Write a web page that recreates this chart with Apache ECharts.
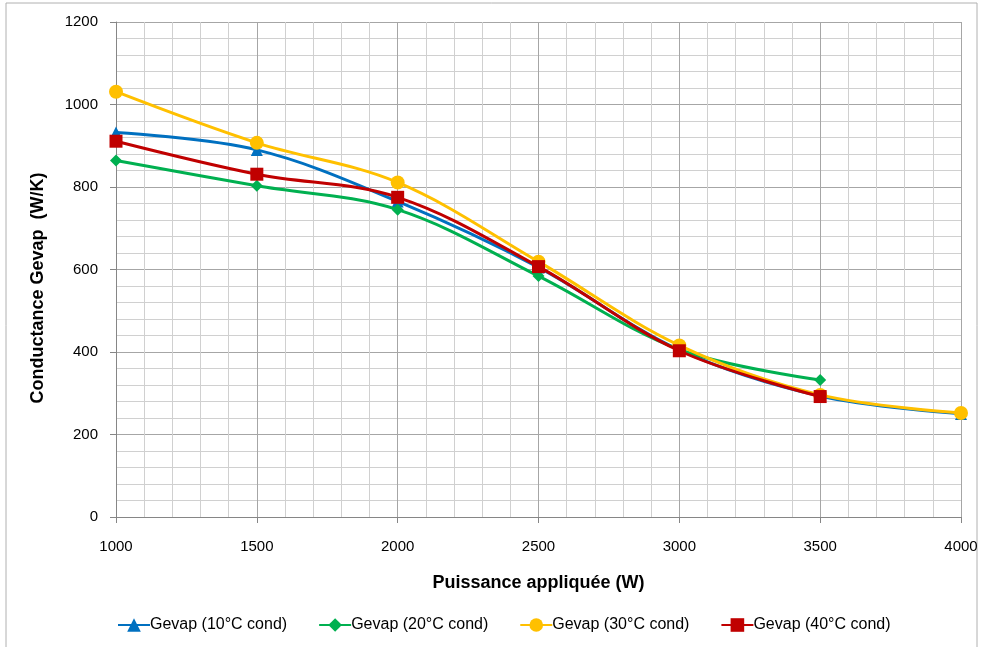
<!DOCTYPE html>
<html>
<head>
<meta charset="utf-8">
<script src="https://cdn.jsdelivr.net/npm/echarts@6/dist/echarts.min.js"></script>
<style>
  html, body { margin: 0; padding: 0; background: #fff; }
  #chart { width: 982px; height: 647px; }
</style>
</head>
<body>
<div id="chart"></div>
<script>
// puissance appliquée (W)
var powers = [1000, 1500, 2000, 2500, 3000, 3500, 4000];
// conductance Gevap (W/K) par température de condensation
var g10 = [932, 890, 765, 605, 405, 293, 250];
var g20 = [864, 803, 745, 584, 406, 332];
var g30 = [1031, 907, 811, 619, 416, 296, 252];
var g40 = [911, 831, 775, 607, 403, 292];

var names = ["Gevap (10°C cond)", "Gevap (20°C cond)", "Gevap (30°C cond)", "Gevap (40°C cond)"];
var colors = ["#0070C0", "#00B050", "#FFC000", "#C00000"];
var symbols = ["triangle", "diamond", "circle", "rect"];
var sizes = [12, 12, 14, 13];
var values = [g10, g20, g30, g40];

var font = "'Liberation Sans', Arial, sans-serif";

function pairs(vals) {
  return vals.map(function (v, i) { return [powers[i], v]; });
}

var series = values.map(function (vals, k) {
  return {
    name: names[k],
    type: "line",
    data: pairs(vals),
    smooth: 0.35,
    symbol: symbols[k],
    symbolSize: sizes[k],
    lineStyle: { color: colors[k], width: 3 },
    itemStyle: { color: colors[k] },
    z: 2 + k
  };
});

var chart = echarts.init(document.getElementById("chart"), null, { renderer: "canvas" });

chart.setOption({
  animation: false,
  backgroundColor: "#fff",
  textStyle: { fontFamily: font },
  graphic: [{
    type: "rect",
    shape: { x: 6, y: 3, width: 971, height: 645 },
    style: { fill: "none", stroke: "#b0b0b0", lineWidth: 1 },
    silent: true
  }, {
    // titre de l'axe Y, un peu plus bas que le centre du graphe comme dans Excel
    type: "text",
    x: 38,
    y: 288,
    rotation: Math.PI / 2,
    style: {
      text: "Conductance Gevap  (W/K)",
      fill: "#000",
      font: "bold 18px " + font,
      align: "center",
      verticalAlign: "middle"
    },
    silent: true
  }],
  grid: { left: 116, right: 21, top: 22, bottom: 130 },
  legend: {
    bottom: 9,
    left: 112,
    itemGap: 31,
    itemWidth: 32,
    itemHeight: 17,
    textStyle: { fontSize: 16, color: "#000", fontFamily: font, padding: [0, 0, 0, -5] },
    data: names
  },
  xAxis: {
    type: "value",
    min: 1000,
    max: 4000,
    interval: 500,
    name: "Puissance appliquée (W)",
    nameLocation: "middle",
    nameGap: 57,
    nameTextStyle: { fontSize: 18, fontWeight: "bold", color: "#000" },
    axisLine: { lineStyle: { color: "#868686" } },
    axisTick: { show: true, length: 6, lineStyle: { color: "#868686" } },
    axisLabel: { fontSize: 15, color: "#000", margin: 22, formatter: function (v) { return String(v); } },
    splitLine: { show: true, lineStyle: { color: "#a6a6a6", width: 1 } },
    minorTick: { show: false, splitNumber: 5 },
    minorSplitLine: { show: true, lineStyle: { color: "#d0d0d0", width: 1 } }
  },
  yAxis: {
    type: "value",
    min: 0,
    max: 1200,
    interval: 200,
    axisLine: { show: true, lineStyle: { color: "#868686" } },
    axisTick: { show: true, length: 6, lineStyle: { color: "#868686" } },
    axisLabel: { fontSize: 15, color: "#000", margin: 18, formatter: function (v) { return String(v); } },
    splitLine: { show: true, lineStyle: { color: "#a6a6a6", width: 1 } },
    minorTick: { show: false, splitNumber: 5 },
    minorSplitLine: { show: true, lineStyle: { color: "#d0d0d0", width: 1 } }
  },
  series: series
});
</script>
</body>
</html>
